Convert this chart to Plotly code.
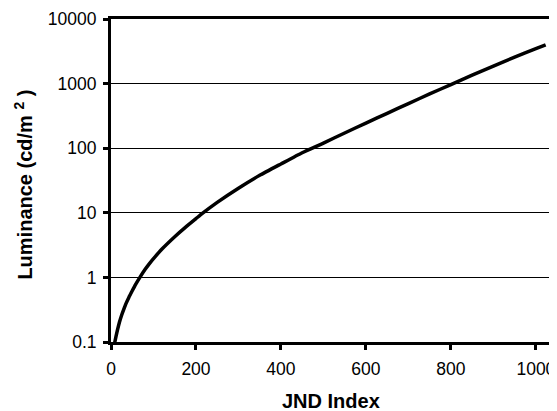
import plotly.graph_objects as go

jnd_index = [1, 5, 9, 15, 20, 25, 30, 35, 42, 50, 58, 68, 80, 90, 100, 120, 150, 175, 200, 215,
             250, 300, 350, 400, 450, 500, 550, 600, 650, 700, 750, 800, 850, 900, 950, 1000, 1023]
luminance = [0.05, 0.071, 0.1, 0.151, 0.204, 0.26, 0.32, 0.39, 0.49, 0.62, 0.78, 1.0, 1.32, 1.62,
             1.95, 2.75, 4.27, 5.96, 8.13, 9.77, 14.5, 24, 38, 57, 85, 120, 172, 245, 347, 490,
             692, 966, 1350, 1862, 2570, 3467, 3981]

x_ticks = [0, 200, 400, 600, 800, 1000]
y_ticks = [0.1, 1, 10, 100, 1000, 10000]
y_tick_labels = ["0.1", "1", "10", "100", "1000", "10000"]

x_title = "<b>JND Index</b>"
y_title = "<b>Luminance (cd/m <sup>2</sup> )</b>"

fig = go.Figure()
fig.add_trace(go.Scatter(
    x=jnd_index, y=luminance, mode="lines",
    line=dict(color="black", width=3.5, shape="spline", smoothing=0.5),
    showlegend=False,
))

font_family = "Liberation Sans, Arial, sans-serif"
fig.update_layout(
    width=557, height=411,
    margin=dict(l=103, r=10, t=11, b=77),
    paper_bgcolor="white", plot_bgcolor="white",
    font=dict(family=font_family, color="black", size=17.5),
    xaxis=dict(
        range=[0, 1045], tickvals=x_ticks, ticks="outside", ticklen=5, tickwidth=3,
        tickcolor="black", showline=True, linecolor="black", linewidth=3, mirror=True,
        showgrid=False, zeroline=False, automargin=False, ticklabelstandoff=4,
    ),
    yaxis=dict(
        type="log", range=[-1, 4], tickvals=y_ticks, ticktext=y_tick_labels,
        ticks="outside", ticklen=5, tickwidth=3, tickcolor="black",
        showline=True, linecolor="black", linewidth=3, mirror=True,
        showgrid=True, gridcolor="black", gridwidth=1, zeroline=False, automargin=False,
        ticklabelstandoff=3,
    ),
    annotations=[
        dict(text=x_title, xref="paper", yref="paper", x=0.495, y=-0.184,
             xanchor="center", yanchor="middle", showarrow=False, font=dict(size=20)),
        dict(text=y_title, xref="paper", yref="paper", x=-0.198, y=0.4876,
             xanchor="center", yanchor="middle", showarrow=False, textangle=-90,
             font=dict(size=20)),
    ],
)

fig.write_html("out.html")
